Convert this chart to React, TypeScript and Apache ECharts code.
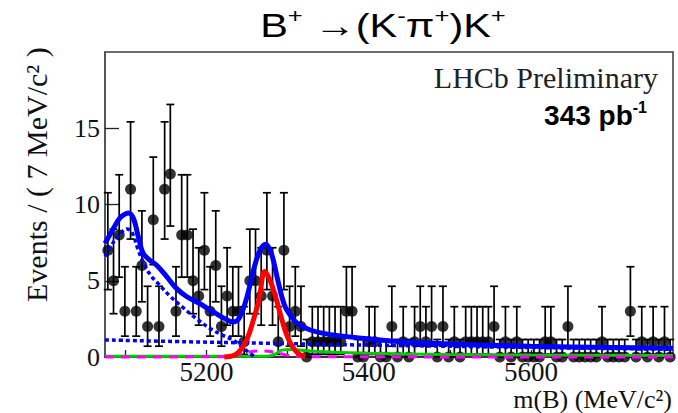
import { useEffect, useRef } from "react";
import * as echarts from "echarts";

// Histogram binning of the B candidate mass (MeV/c^2)
const MASS_MIN = 5075;
const MASS_MAX = 5775;
const BIN_WIDTH = 7;

// Events per 7 MeV bin, from MASS_MIN upward
const EVENTS_PER_BIN = [
  7, 5, 8, 3, 11, 3, 6, 2, 9, 2,
  11, 12, 3, 8, 8, 5, 4, 7, 3, 6,
  2, 4, 3, 3, 1, 5, 5, 4, 7, 4,
  1, 7, 2, 3, 2, 0, 1, 1, 1, 1,
  1, 1, 3, 3, 0, 0, 1, 1, 0, 0,
  2, 0, 1, 0, 1, 2, 1, 2, 0, 2,
  0, 1, 0, 1, 1, 1, 1, 1, 2, 0,
  1, 0, 1, 0, 0, 0, 0, 1, 1, 0,
  0, 2, 0, 0, 0, 0, 0, 1, 0, 0,
  0, 0, 3, 0, 1, 0, 1, 0, 1, 0,
];

// 68.3% Poisson interval bounds for n = 0..12 observed events
const POISSON_LOW = [0, 0.173, 0.708, 1.367, 2.086, 2.84, 3.62, 4.419, 5.232, 6.057, 6.891, 7.734, 8.585];
const POISSON_HIGH = [1.148, 3.3, 4.638, 5.918, 7.163, 8.382, 9.584, 10.77, 11.95, 13.11, 14.27, 15.42, 16.56];

// Axis ticks and labels
const X_TICKS = [5100, 5200, 5300, 5400, 5500, 5600, 5700];
const X_LABELS = [5200, 5400, 5600];
const Y_TICKS = [5, 10, 15];
const Y_LABELS = [0, 5, 10, 15];

// Fit projection: total PDF
const TOTAL_MASS = [5075, 5085, 5093, 5099, 5104, 5110, 5116, 5122, 5130, 5139, 5151, 5163, 5176, 5192, 5198, 5211, 5223, 5233, 5241, 5250, 5258, 5266, 5273, 5280, 5289, 5297, 5309, 5315, 5328, 5344, 5365, 5385, 5426, 5500, 5600, 5700, 5775];
const TOTAL_EVENTS = [7.45, 8.4, 9.1, 9.35, 9.45, 9.1, 7.9, 6.8, 6.36, 6.0, 5.27, 4.5, 3.95, 3.5, 3.3, 2.87, 2.5, 2.3, 2.6, 3.95, 5.7, 7.0, 7.4, 6.8, 4.8, 3.3, 2.35, 2.1, 1.77, 1.55, 1.38, 1.27, 1.05, 0.85, 0.7, 0.62, 0.57];

// Partially reconstructed background
const PARTRECO_MASS = [5075, 5085, 5094, 5102, 5108, 5116, 5124, 5132, 5139, 5155, 5172, 5188, 5205, 5221, 5233, 5243, 5252, 5260];
const PARTRECO_EVENTS = [6.6, 7.5, 8.1, 8.4, 8.2, 7.0, 6.0, 5.3, 4.9, 4.0, 3.2, 2.5, 1.85, 1.4, 1.1, 0.7, 0.3, 0.0];

// Combinatorial background
const COMB_MASS = [5075, 5175, 5275, 5375, 5475, 5575, 5675, 5775];
const COMB_EVENTS = [1.12, 1.0, 0.9, 0.8, 0.72, 0.64, 0.57, 0.5];

// B+ -> D K+ signal
const SIGNAL_MASS = [5222, 5230, 5237, 5244, 5251, 5258, 5265, 5272, 5279, 5286, 5293, 5300, 5307, 5314, 5322];
const SIGNAL_EVENTS = [0, 0.05, 0.2, 0.6, 1.3, 2.45, 3.8, 5.6, 4.95, 3.8, 2.45, 1.3, 0.6, 0.2, 0.03];

// Misidentified B+ -> D pi+
const MISID_MASS = [5075, 5275, 5285, 5293, 5305, 5320, 5350, 5400, 5500, 5600, 5775];
const MISID_EVENTS = [0.05, 0.05, 0.2, 0.45, 0.5, 0.42, 0.32, 0.24, 0.17, 0.13, 0.1];

// Other peaking background
const PEAKING_MASS = [5075, 5225, 5240, 5255, 5270, 5285, 5300, 5320, 5775];
const PEAKING_EVENTS = [0, 0.02, 0.15, 0.35, 0.4, 0.3, 0.12, 0.02, 0];

const pairs = (xs: number[], ys: number[]) => xs.map((x, i) => [x, ys[i]]);

export default function App() {
  const ref = useRef<HTMLDivElement>(null);

  useEffect(() => {
    if (!ref.current) return;
    const chart = echarts.init(ref.current, undefined, { renderer: "svg" });

    const points = EVENTS_PER_BIN.map((n, i) => [MASS_MIN + BIN_WIDTH * (i + 0.5), n]);
    const bars = EVENTS_PER_BIN.map((n, i) => [
      MASS_MIN + BIN_WIDTH * (i + 0.5),
      POISSON_LOW[n],
      POISSON_HIGH[n],
      n,
    ]);

    const serif = "Liberation Serif";
    const sans = "Liberation Sans";

    const curve = (name: string, data: number[][], color: string, width: number, type: any, z: number, smooth = 0.35) => ({
      name,
      type: "line",
      data,
      smooth,
      showSymbol: false,
      clip: false,
      z,
      lineStyle: { color, width, type },
      silent: true,
    });

    chart.setOption({
      animation: false,
      backgroundColor: "#ffffff",
      grid: {
        left: 105,
        right: 5,
        top: 52,
        bottom: 56,
        show: true,
        borderColor: "#3c3c3c",
        borderWidth: 1.5,
      },
      xAxis: {
        type: "value",
        min: MASS_MIN,
        max: MASS_MAX,
        axisLine: { show: true, onZero: false, lineStyle: { color: "#222", width: 1.5 } },
        axisTick: { show: true, inside: true, length: 7, customValues: X_TICKS, lineStyle: { color: "#222", width: 1.3 } },
        axisLabel: {
          customValues: X_LABELS,
          formatter: (v: number) => String(v),
          fontFamily: serif,
          fontSize: 27,
          lineHeight: 22,
          color: "#111",
          margin: 4,
        },
        splitLine: { show: false },
      },
      yAxis: {
        type: "value",
        min: 0,
        max: 20,
        interval: 5,
        axisLine: { show: true, lineStyle: { color: "#555", width: 2 } },
        axisTick: { show: true, inside: true, length: 14, customValues: Y_TICKS, lineStyle: { color: "#222", width: 1.3 } },
        axisLabel: { customValues: Y_LABELS, fontFamily: serif, fontSize: 26, color: "#111", margin: 5 },
        splitLine: { show: false },
      },
      series: [
        {
          name: "errors",
          type: "custom",
          data: bars,
          clip: false,
          z: 2,
          silent: true,
          renderItem: (_params: any, api: any) => {
            const x = api.value(0);
            const n = api.value(3);
            const top = api.coord([x, api.value(2)]);
            const bot = api.coord([x, api.value(1)]);
            const style = { stroke: "#000", lineWidth: 1.7 };
            const children: any[] = [
              { type: "line", shape: { x1: top[0], y1: top[1], x2: bot[0], y2: bot[1] }, style },
              { type: "line", shape: { x1: top[0] - 4, y1: top[1], x2: top[0] + 4, y2: top[1] }, style },
            ];
            if (n > 0) {
              children.push({ type: "line", shape: { x1: bot[0] - 4, y1: bot[1], x2: bot[0] + 4, y2: bot[1] }, style });
            }
            return { type: "group", children };
          },
        },
        {
          name: "data",
          type: "scatter",
          data: points,
          symbol: "circle",
          symbolSize: 11,
          clip: false,
          z: 3,
          silent: true,
          itemStyle: { color: "#000" },
        },
        curve("misid", pairs(MISID_MASS, MISID_EVENTS), "#00cc00", 3, "solid", 4),
        curve("peaking", pairs(PEAKING_MASS, PEAKING_EVENTS), "#ff00ff", 3, [9, 7], 5),
        curve("comb", pairs(COMB_MASS, COMB_EVENTS), "#0000ff", 3.5, [4, 3], 6),
        curve("partreco", pairs(PARTRECO_MASS, PARTRECO_EVENTS), "#0000ff", 3.5, [4, 3], 6),
        curve("signal", pairs(SIGNAL_MASS, SIGNAL_EVENTS), "#ff0000", 5, "solid", 7, 0.4),
        curve("total", pairs(TOTAL_MASS, TOTAL_EVENTS), "#0000ff", 5, "solid", 8),
      ],
      graphic: [
        {
          type: "text",
          x: 383,
          y: 25,
          scaleX: 1.22,
          style: {
            text: "{m|B}{s|+}{m| \u2192(K}{s|-}{m|\u03c0}{s|+}{m|)K}{s|+}",
            align: "center",
            verticalAlign: "middle",
            textAlign: "center",
            textVerticalAlign: "middle",
            rich: {
              m: { fontFamily: sans, fontSize: 34, lineHeight: 40, fill: "#000" },
              s: { fontFamily: sans, fontSize: 21, lineHeight: 22, verticalAlign: "top", fill: "#000" },
            },
          },
        },
        {
          type: "text",
          x: 658,
          y: 77,
          style: {
            text: "LHCb Preliminary",
            fontFamily: serif,
            fontSize: 30,
            fill: "#222",
            align: "right",
            verticalAlign: "middle",
            textAlign: "right",
            textVerticalAlign: "middle",
          },
        },
        {
          type: "text",
          x: 647,
          y: 115,
          style: {
            text: "{b|343 pb}{s|-1}",
            align: "right",
            verticalAlign: "middle",
            textAlign: "right",
            textVerticalAlign: "middle",
            rich: {
              b: { fontFamily: sans, fontWeight: "bold", fontSize: 28, lineHeight: 32, fill: "#000" },
              s: { fontFamily: sans, fontWeight: "bold", fontSize: 16, lineHeight: 18, verticalAlign: "top", fill: "#000" },
            },
          },
        },
        {
          type: "text",
          x: 36,
          y: 302,
          rotation: Math.PI / 2,
          style: {
            text: "Events / ( 7 MeV/c\u00b2 )",
            fontFamily: serif,
            fontSize: 30,
            fill: "#111",
            align: "left",
            verticalAlign: "middle",
            textAlign: "left",
            textVerticalAlign: "middle",
          },
        },
        {
          type: "text",
          x: 672,
          y: 399.5,
          style: {
            text: "m(B) (MeV/c\u00b2)",
            fontFamily: serif,
            fontSize: 26,
            lineHeight: 22,
            fill: "#111",
            align: "right",
            verticalAlign: "middle",
            textAlign: "right",
            textVerticalAlign: "middle",
          },
        },
      ],
    });

    return () => chart.dispose();
  }, []);

  return (
    <div
      ref={ref}
      style={{ position: "absolute", left: 0, top: 0, width: 678, height: 413, background: "#fff" }}
    />
  );
}
